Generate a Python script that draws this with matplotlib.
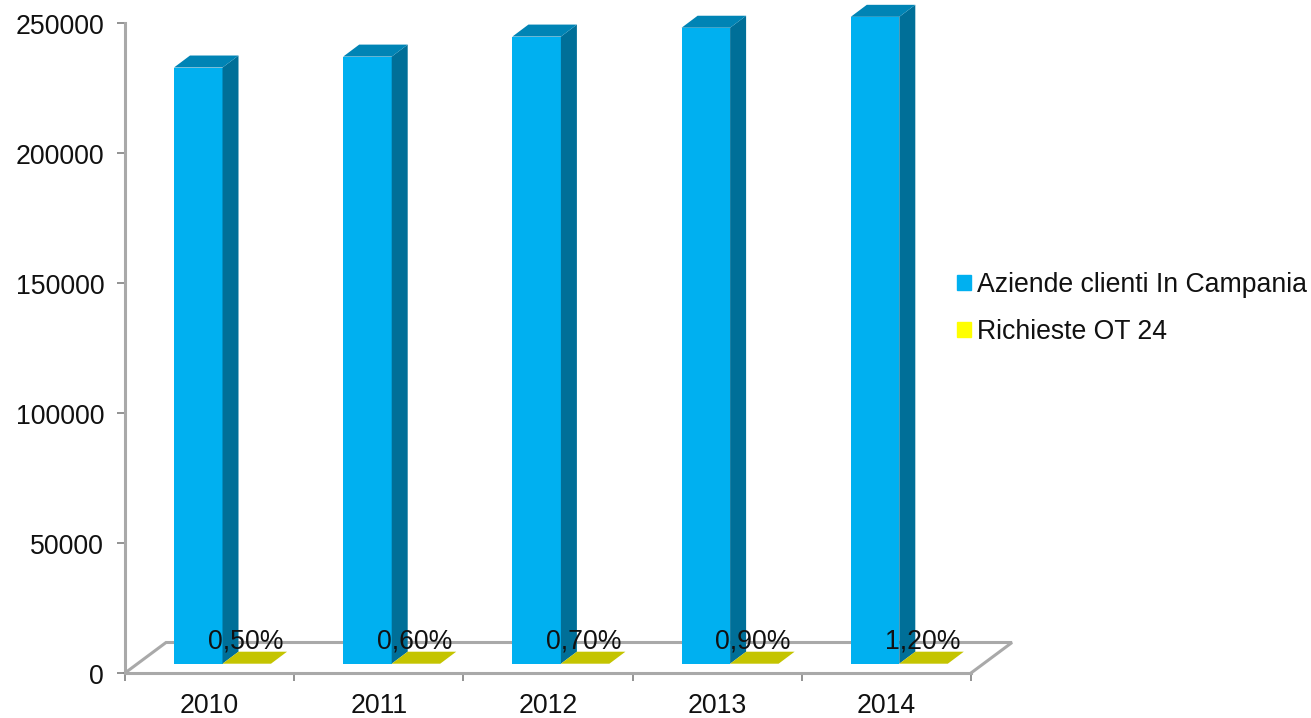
import matplotlib
matplotlib.use("Agg")
import matplotlib.pyplot as plt
from matplotlib.patches import Patch
from matplotlib.transforms import ScaledTranslation

plt.rcParams['font.family'] = ['Liberation Sans', 'DejaVu Sans']

years = ["2010", "2011", "2012", "2013", "2014"]
aziende = [229300, 233500, 241200, 244600, 248800]
richieste = [0.5, 0.6, 0.7, 0.9, 1.2]
richieste_labels = ["0,50%", "0,60%", "0,70%", "0,90%", "1,20%"]
y_ticks = [0, 50000, 100000, 150000, 200000, 250000]

W, H = 1311, 718
fig = plt.figure(figsize=(W / 100, H / 100), dpi=100)
ax = fig.add_axes([125 / W, 1 - 673 / H, 846 / W, 650 / H])
ax.set_xlim(-0.5, 4.5)
ax.set_ylim(0, 250000)

# pixels to data units, the 3d look is faked with polygons
px_x = 5 / 846
px_y = 250000 / 650
grey = "#a9a9a9"
fs = 19.2

floor_dx = 41 * px_x
floor_dy = 30.5 * px_y
ax.plot([-0.5, -0.5 + floor_dx, 4.5 + floor_dx, 4.5], [0, floor_dy, floor_dy, 0],
        color=grey, lw=2.2, clip_on=False, zorder=1, solid_joinstyle="miter")

base = 9.3 * px_y
depth_x = 16 * px_x
depth_y = 12 * px_y
bar_w = 48.5 * px_x
left_off = -0.5 + 49 * px_x


def box(x, w, h, front, side, top):
    y0 = base
    y1 = base + h
    ax.fill([x, x + w, x + w, x], [y0, y0, y1, y1], color=front, lw=0, zorder=3, clip_on=False)
    ax.fill([x + w, x + w + depth_x, x + w + depth_x, x + w],
            [y0, y0 + depth_y, y1 + depth_y, y1], color=side, lw=0, zorder=3, clip_on=False)
    ax.fill([x, x + depth_x, x + w + depth_x, x + w],
            [y1, y1 + depth_y, y1 + depth_y, y1], color=top, lw=0, zorder=3, clip_on=False)


for i in range(len(years)):
    x = i + left_off
    box(x, bar_w, aziende[i], "#00b0f0", "#006f98", "#0084b5")
    box(x + bar_w, bar_w, richieste[i], "#ffff00", "#a8a800", "#c4c400")
    ax.text(x + bar_w + 23 * px_x, 31 * px_y, richieste_labels[i], ha="center", va="center",
            fontsize=fs, color="#111111", zorder=5)

for s in ["top", "right"]:
    ax.spines[s].set_visible(False)
for s in ["left", "bottom"]:
    ax.spines[s].set_color(grey)
    ax.spines[s].set_linewidth(2.2)
    ax.spines[s].set_zorder(2)

ax.set_yticks(y_ticks)
ax.set_xticks([i - 0.5 for i in range(6)], labels=[])
ax.set_xticks(range(5), labels=years, minor=True)
ax.tick_params(axis="y", length=6, width=1.2, color="#808080", labelsize=fs, pad=9, labelcolor="#111111")
ax.tick_params(axis="x", which="major", length=6, width=1.2, color="#808080")
ax.tick_params(axis="x", which="minor", length=0, labelsize=fs, pad=14.5, labelcolor="#111111")

# tick labels sit a pixel lower than the ticks in the original
for lab in ax.get_yticklabels():
    lab.set_transform(lab.get_transform() + ScaledTranslation(0, -1 / 100, fig.dpi_scale_trans))

handles = [Patch(color="#00b0f0", label="Aziende clienti In Campania"),
           Patch(color="#ffff00", label="Richieste OT 24")]
fig.legend(handles=handles, loc="center left", bbox_to_anchor=(952 / W, 1 - 308.5 / H), frameon=False,
           fontsize=fs, handlelength=0.52, handleheight=0.52, handletextpad=0.22,
           labelspacing=0.775, borderpad=0.2, borderaxespad=0, labelcolor="#111111")

fig.savefig("out.png", dpi=100)
plt.close()
